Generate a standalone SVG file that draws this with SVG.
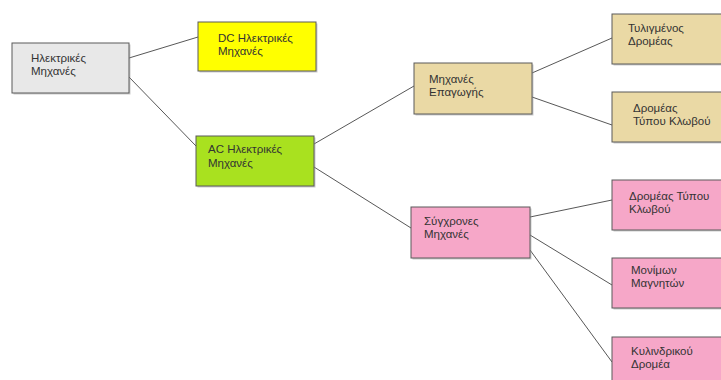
<svg xmlns="http://www.w3.org/2000/svg" width="721" height="380" viewBox="0 0 721 380">
  <style>
    .box { stroke: #5a5a5a; stroke-width: 1; }
    .shadow { fill: #9a9a9a; opacity: 0.5; }
    .gray { fill: #e8e8e8; }
    .yellow { fill: #ffff00; }
    .green { fill: #a9e11f; }
    .tan { fill: #ead9a5; }
    .pink { fill: #f6a7c8; }
    .label { font-family: "Liberation Sans", Arial, sans-serif; font-size: 11.5px; fill: #333333; }
    .link { stroke: #444444; stroke-width: 0.9; fill: none; }
  </style>
  <rect width="721" height="380" fill="#ffffff"/>

  <g id="connectors">
    <line class="link" x1="129" y1="58" x2="198" y2="37"/>
    <line class="link" x1="129" y1="77" x2="196" y2="146"/>
    <line class="link" x1="314" y1="144" x2="414" y2="86"/>
    <line class="link" x1="314" y1="167" x2="411" y2="228"/>
    <line class="link" x1="532" y1="73" x2="612" y2="38"/>
    <line class="link" x1="532" y1="97" x2="612" y2="125"/>
    <line class="link" x1="530" y1="217" x2="612" y2="200"/>
    <line class="link" x1="530" y1="235" x2="612" y2="285"/>
    <line class="link" x1="530" y1="250" x2="612" y2="362"/>
  </g>

  <g id="electric-machines">
    <rect class="shadow" x="13.5" y="44.5" width="117" height="50"/>
    <rect class="box gray" x="12" y="43" width="117" height="50"/>
    <text class="label" x="31" y="62">Ηλεκτρικές</text>
    <text class="label" x="31" y="75">Μηχανές</text>
  </g>

  <g id="dc-machines">
    <rect class="shadow" x="199.5" y="23.5" width="118" height="49"/>
    <rect class="box yellow" x="198" y="22" width="118" height="49"/>
    <text class="label" x="218" y="42">DC Ηλεκτρικές</text>
    <text class="label" x="218" y="55">Μηχανές</text>
  </g>

  <g id="ac-machines">
    <rect class="shadow" x="197.5" y="137.5" width="118" height="50"/>
    <rect class="box green" x="196" y="136" width="118" height="50"/>
    <text class="label" x="208" y="153">AC Ηλεκτρικές</text>
    <text class="label" x="208" y="167">Μηχανές</text>
  </g>

  <g id="induction-machines">
    <rect class="shadow" x="415.5" y="64.5" width="118" height="51"/>
    <rect class="box tan" x="414" y="63" width="118" height="51"/>
    <text class="label" x="429" y="83">Μηχανές</text>
    <text class="label" x="429" y="96">Επαγωγής</text>
  </g>

  <g id="wound-rotor">
    <rect class="shadow" x="613.5" y="15.5" width="112" height="50"/>
    <rect class="box tan" x="612" y="14" width="112" height="50"/>
    <text class="label" x="628" y="32">Τυλιγμένος</text>
    <text class="label" x="628" y="45">Δρομέας</text>
  </g>

  <g id="squirrel-cage-induction">
    <rect class="shadow" x="613.5" y="93.5" width="112" height="50"/>
    <rect class="box tan" x="612" y="92" width="112" height="50"/>
    <text class="label" x="633" y="112">Δρομέας</text>
    <text class="label" x="633" y="125">Τύπου Κλωβού</text>
  </g>

  <g id="synchronous-machines">
    <rect class="shadow" x="412.5" y="208.5" width="119" height="51"/>
    <rect class="box pink" x="411" y="207" width="119" height="51"/>
    <text class="label" x="424" y="225">Σύγχρονες</text>
    <text class="label" x="424" y="238">Μηχανές</text>
  </g>

  <g id="squirrel-cage-synchronous">
    <rect class="shadow" x="613.5" y="181.5" width="112" height="50"/>
    <rect class="box pink" x="612" y="180" width="112" height="50"/>
    <text class="label" x="629" y="200">Δρομέας Τύπου</text>
    <text class="label" x="629" y="213">Κλωβού</text>
  </g>

  <g id="permanent-magnet">
    <rect class="shadow" x="613.5" y="259.5" width="112" height="50"/>
    <rect class="box pink" x="612" y="258" width="112" height="50"/>
    <text class="label" x="631" y="274">Μονίμων</text>
    <text class="label" x="631" y="287">Μαγνητών</text>
  </g>

  <g id="cylindrical-rotor">
    <rect class="shadow" x="613.5" y="338.5" width="112" height="50"/>
    <rect class="box pink" x="612" y="337" width="112" height="50"/>
    <text class="label" x="631" y="355">Κυλινδρικού</text>
    <text class="label" x="631" y="368">Δρομέα</text>
  </g>
</svg>
